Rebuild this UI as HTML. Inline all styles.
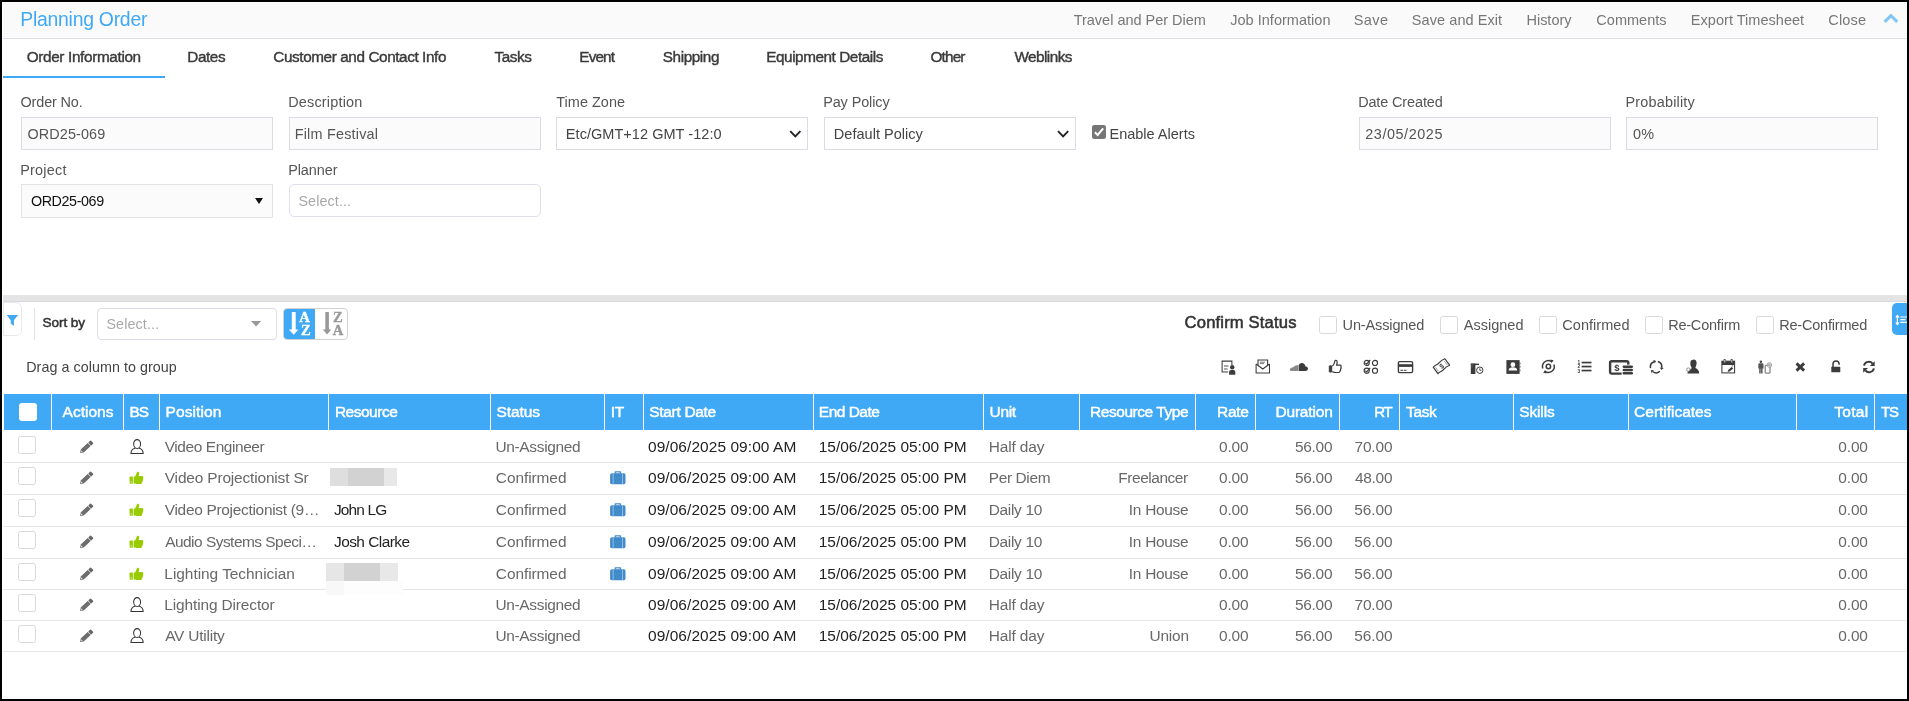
<!DOCTYPE html>
<html lang="en"><head><meta charset="utf-8"><title>Planning Order</title>
<style>
*{box-sizing:border-box;margin:0;padding:0}
html,body{width:1909px;height:701px;overflow:hidden;background:#000}
body{position:relative;font-family:'Liberation Sans',sans-serif}
#app{position:absolute;left:2px;top:2px;width:1905px;height:697px;background:#fff;overflow:hidden}
/* all children positioned in page coords: shift by -2 */
#pg{position:absolute;left:-2px;top:-2px;width:1909px;height:701px;will-change:transform}
.t{position:absolute;white-space:pre;line-height:20px;height:20px}
.b{position:absolute}
.inp{position:absolute;border:1px solid #d9dce5;background:#fbfbfb}
.sel{position:absolute;border:1px solid #d9dce5;background:#fff}
.cb{position:absolute;width:18px;height:18px;border:1px solid #d9d9d9;border-radius:2.5px;background:#fff}
.hs{position:absolute;top:394px;width:1px;height:36px;background:#fff}
.rl{position:absolute;left:3px;width:1904px;height:1px;background:#e6e6e6}
svg{position:absolute;overflow:visible}
</style></head>
<body><div id="app"><div id="pg">
<header id="titlebar">
<div class="b" style="left:3px;top:3px;width:1904px;height:34px;background:#fafafa"></div>
<div class="b" style="left:3px;top:38px;width:1904px;height:1px;background:#dadde4"></div>
<svg style="left:1882px;top:12px" width="18" height="14" viewBox="0 0 18 14"><path d="M2.6 9.9 L8.9 3.6 L15.2 9.9" fill="none" stroke="#7fc6f7" stroke-width="3" /></svg>
<span class="t" style="left:20.34px;top:9.28px;font-size:19.4px;color:#3fa9f5;letter-spacing:-0.261px;">Planning Order</span>
<span class="t" style="left:1073.70px;top:9.98px;font-size:14.5px;color:#777;letter-spacing:-0.011px;">Travel and Per Diem</span>
<span class="t" style="left:1230.28px;top:9.98px;font-size:14.5px;color:#777;letter-spacing:0.017px;">Job Information</span>
<span class="t" style="left:1353.83px;top:9.98px;font-size:14.5px;color:#777;letter-spacing:0.372px;">Save</span>
<span class="t" style="left:1411.83px;top:9.98px;font-size:14.5px;color:#777;letter-spacing:0.071px;">Save and Exit</span>
<span class="t" style="left:1526.46px;top:9.98px;font-size:14.5px;color:#777;letter-spacing:-0.008px;">History</span>
<span class="t" style="left:1596.33px;top:9.98px;font-size:14.5px;color:#777;letter-spacing:0.025px;">Comments</span>
<span class="t" style="left:1690.86px;top:9.98px;font-size:14.5px;color:#777;letter-spacing:0.029px;">Export Timesheet</span>
<span class="t" style="left:1828.33px;top:9.98px;font-size:14.5px;color:#777;letter-spacing:0.155px;">Close</span>
</header>
<nav id="tabs">
<div class="b" style="left:3px;top:76px;width:162px;height:2px;background:#3fa9f5"></div>
<span class="t" style="left:26.67px;top:47.30px;font-size:15.3px;color:#3a3a3a;letter-spacing:-0.338px;-webkit-text-stroke:0.4px #3a3a3a;">Order Information</span>
<span class="t" style="left:187.34px;top:47.30px;font-size:15.3px;color:#3a3a3a;letter-spacing:-0.421px;-webkit-text-stroke:0.4px #3a3a3a;">Dates</span>
<span class="t" style="left:273.34px;top:47.30px;font-size:15.3px;color:#3a3a3a;letter-spacing:-0.405px;-webkit-text-stroke:0.4px #3a3a3a;">Customer and Contact Info</span>
<span class="t" style="left:494.55px;top:47.30px;font-size:15.3px;color:#3a3a3a;letter-spacing:-0.425px;-webkit-text-stroke:0.4px #3a3a3a;">Tasks</span>
<span class="t" style="left:579.35px;top:47.30px;font-size:15.3px;color:#3a3a3a;letter-spacing:-0.885px;-webkit-text-stroke:0.4px #3a3a3a;">Event</span>
<span class="t" style="left:662.80px;top:47.30px;font-size:15.3px;color:#3a3a3a;letter-spacing:-0.421px;-webkit-text-stroke:0.4px #3a3a3a;">Shipping</span>
<span class="t" style="left:766.29px;top:47.30px;font-size:15.3px;color:#3a3a3a;letter-spacing:-0.444px;-webkit-text-stroke:0.4px #3a3a3a;">Equipment Details</span>
<span class="t" style="left:930.56px;top:47.30px;font-size:15.3px;color:#3a3a3a;letter-spacing:-0.835px;-webkit-text-stroke:0.4px #3a3a3a;">Other</span>
<span class="t" style="left:1014.50px;top:47.30px;font-size:15.3px;color:#3a3a3a;letter-spacing:-0.551px;-webkit-text-stroke:0.4px #3a3a3a;">Weblinks</span>
</nav>
<form id="order-info">
<div class="inp" style="left:21px;top:117px;width:252px;height:33px"></div>
<div class="inp" style="left:289px;top:117px;width:252px;height:33px"></div>
<div class="sel" style="left:556px;top:117px;width:252px;height:33px"></div>
<div class="sel" style="left:824px;top:117px;width:252px;height:33px"></div>
<div class="inp" style="left:1359px;top:117px;width:252px;height:33px"></div>
<div class="inp" style="left:1626px;top:117px;width:252px;height:33px"></div>
<div class="inp" style="left:21px;top:184px;width:252px;height:34px;border-color:#e3e3e3"></div>
<div class="sel" style="left:289px;top:184px;width:252px;height:33px;border-radius:5px;border-color:#dde0ea"></div>
<svg style="left:787px;top:128px" width="16" height="12" viewBox="0 0 16 12"><path d="M3.2 3.2 L8.3 8.3 L13.4 3.2" fill="none" stroke="#222" stroke-width="1.9" /></svg>
<svg style="left:1055px;top:128px" width="16" height="12" viewBox="0 0 16 12"><path d="M3 3.2 L8.1 8.3 L13.2 3.2" fill="none" stroke="#222" stroke-width="1.9" /></svg>
<svg style="left:254px;top:197px" width="10" height="8" viewBox="0 0 10 8"><path d="M1 1 H9 L5 7 Z" fill="#111"/></svg>
<svg style="left:1092px;top:125px" width="14" height="14" viewBox="0 0 14 14"><rect x="0" y="0" width="14" height="14" rx="2.2" fill="#767676"/><path d="M2.9 7.2 L5.7 10 L11.2 3.4" fill="none" stroke="#fff" stroke-width="2" /></svg>
<span class="t" style="left:20.52px;top:92.39px;font-size:14.45px;color:#555;letter-spacing:-0.142px;">Order No.</span>
<span class="t" style="left:288.15px;top:92.39px;font-size:14.45px;color:#555;letter-spacing:0.192px;">Description</span>
<span class="t" style="left:556.29px;top:92.39px;font-size:14.45px;color:#555;letter-spacing:0.032px;">Time Zone</span>
<span class="t" style="left:823.15px;top:92.39px;font-size:14.45px;color:#555;letter-spacing:-0.095px;">Pay Policy</span>
<span class="t" style="left:1358.15px;top:92.39px;font-size:14.45px;color:#555;letter-spacing:-0.117px;">Date Created</span>
<span class="t" style="left:1625.44px;top:92.39px;font-size:14.45px;color:#555;letter-spacing:0.191px;">Probability</span>
<span class="t" style="left:20.15px;top:159.99px;font-size:14.45px;color:#555;letter-spacing:0.227px;">Project</span>
<span class="t" style="left:288.15px;top:159.99px;font-size:14.45px;color:#555;letter-spacing:-0.057px;">Planner</span>
<span class="t" style="left:27.56px;top:123.71px;font-size:14.4px;color:#555;letter-spacing:0.104px;">ORD25-069</span>
<span class="t" style="left:294.68px;top:123.71px;font-size:14.4px;color:#555;letter-spacing:0.218px;">Film Festival</span>
<span class="t" style="left:565.86px;top:123.68px;font-size:14.5px;color:#444;letter-spacing:0.044px;">Etc/GMT+12 GMT -12:0</span>
<span class="t" style="left:833.86px;top:123.68px;font-size:14.5px;color:#444;letter-spacing:0.018px;">Default Policy</span>
<span class="t" style="left:1109.46px;top:123.68px;font-size:14.5px;color:#444;letter-spacing:0.005px;">Enable Alerts</span>
<span class="t" style="left:1365.29px;top:123.71px;font-size:14.4px;color:#555;letter-spacing:0.565px;">23/05/2025</span>
<span class="t" style="left:1633.05px;top:123.71px;font-size:14.4px;color:#555;letter-spacing:0.133px;">0%</span>
<span class="t" style="left:30.96px;top:191.25px;font-size:14.3px;color:#111;letter-spacing:-0.393px;">ORD25-069</span>
<span class="t" style="left:298.42px;top:191.05px;font-size:14.3px;color:#a8a8a8;letter-spacing:0.123px;">Select...</span>
</form>
<section id="toolbar">
<div class="b" style="left:3px;top:295px;width:1904px;height:6px;background:#e4e4e4"></div>
<div class="b" style="left:3px;top:301px;width:1904px;height:1px;background:#d8dbe1"></div>
<div class="b" style="left:3px;top:302px;width:19px;height:34px;border:1px solid #e9e9e9;border-radius:0 6px 6px 0;background:#fff"></div>
<div class="b" style="left:34px;top:308px;width:1px;height:32px;background:#e4e4e4"></div>
<div class="sel" style="left:97px;top:308px;width:180px;height:32px;border-radius:4px;border-color:#dcdce4"></div>
<div class="b" style="left:283px;top:308px;width:65px;height:32px;border:1px solid #d2d2d6;border-radius:4px;background:#fff"></div>
<div class="b" style="left:284px;top:309px;width:31px;height:30px;border-radius:3px 0 0 3px;background:#3fa9f5"></div>
<div class="cb" style="left:1319px;top:316px"></div>
<div class="cb" style="left:1440px;top:316px"></div>
<div class="cb" style="left:1539px;top:316px"></div>
<div class="cb" style="left:1645px;top:316px"></div>
<div class="cb" style="left:1756px;top:316px"></div>
<div class="b" style="left:1892px;top:303px;width:15px;height:32px;border-radius:5px 0 0 5px;background:#3fa9f5"></div>
<svg style="left:250px;top:320px" width="12" height="8" viewBox="0 0 12 8"><path d="M1 1.1 H11.2 L6.1 6.4 Z" fill="#999"/></svg>
<svg style="left:6px;top:314px" width="13" height="13" viewBox="0 0 13 13"><path d="M0.7 1 H12.1 L7.9 6.3 V12 L4.7 9.6 V6.3 Z" fill="#3fa9f5"/></svg>
<svg style="left:1894px;top:313px" width="14" height="14" viewBox="0 0 14 14"><path d="M3.4 2.2 V11.8" fill="none" stroke="#fff" stroke-width="1.3" /><path d="M1.2 4.6 L3.4 1.6 L5.6 4.6 Z M1.2 9.6 L3.4 12.6 L5.6 9.6 Z" fill="#fff"/><path d="M6.3 4 H13 M6.3 6.6 H11.5 M6.3 9.4 H13" fill="none" stroke="#fff" stroke-width="1.1" /></svg>
<svg style="left:287px;top:311px" width="14" height="25" viewBox="0 0 14 25"><path d="M4.8 1 H8.7 V18.5 H11.4 L6.7 23.7 L1.8 18.5 H4.8 Z" fill="#fff"/></svg>
<svg style="left:321px;top:311px" width="14" height="25" viewBox="0 0 14 25"><path d="M4.3 1 H7.9 V18.5 H10.3 L6.1 23.6 L1.8 18.5 H4.3 Z" fill="#999"/></svg>
<svg style="left:1221.1px;top:359.5px" width="15" height="16" viewBox="0 0 15 16"><path d="M10.9 5 V1.1 H1.1 V11.9 H7.2" fill="none" stroke="#3c3c3c" stroke-width="1.05" /><path d="M3 6 H7.6 M3 9 H6.6" fill="none" stroke="#555" stroke-width="1" /><circle cx="11.2" cy="7.3" r="2.2" fill="#3c3c3c"/><path d="M8.1 14.8 V11.9 A1.9 1.9 0 0 1 10 10 H12.4 A1.9 1.9 0 0 1 14.3 11.9 V14.8 Z" fill="#3c3c3c"/></svg>
<svg style="left:1255.4px;top:359.1px" width="16" height="15" viewBox="0 0 16 15"><path d="M1.1 5 V13.9 H14.5 V5" fill="none" stroke="#3c3c3c" stroke-width="1.05" /><path d="M1.1 5 L7.8 10 L14.5 5" fill="none" stroke="#3c3c3c" stroke-width="1.1" /><path d="M3 6.2 V1 H12.6 V6.2" fill="none" stroke="#3c3c3c" stroke-width="1.1" /><path d="M4.8 3.2 H10 M4.8 4.6 H9" fill="none" stroke="#777" stroke-width="1" /></svg>
<svg style="left:1289px;top:362px" width="20" height="10" viewBox="0 0 20 10"><path d="M1 7.2 C1.4 5.6 3.2 5.6 4.4 4.9 C5.8 4 7.2 3 9.6 3 V9 H2.2 C1.3 9 0.8 8.2 1 7.2 Z" fill="#6a6a6a" opacity=".8"/><path d="M9.9 9 V2.6 C10.8 1.5 12 0.9 13.3 1 C15.2 1.2 16.3 2.7 16.5 4.4 C18 4.2 19.1 5.4 19 6.8 C18.9 8 17.9 9 16.7 9 Z" fill="#3c3c3c"/></svg>
<svg style="left:1328px;top:359px" width="15" height="15" viewBox="0 0 15 15"><rect x="1.3" y="6.8" width="2.4" height="6.3" rx=".4" fill="#3c3c3c" stroke="#3c3c3c" stroke-width="1"/><path d="M4.3 7.2 C5.6 6.2 6.6 4.2 6.9 1.9 C7.1 1.1 8.7 1 9.1 2.3 C9.4 3.5 9 4.9 8.5 6.1 H12 C13.1 6.1 13.5 7.3 12.8 8 C13.4 8.6 13.2 9.6 12.5 10 C12.9 10.7 12.6 11.5 12 11.8 C12.2 12.7 11.6 13.5 10.7 13.5 H7.2 C6.1 13.5 5.3 12.9 4.3 12.7" fill="none" stroke="#3c3c3c" stroke-width="1.2" stroke-linejoin="round"/></svg>
<svg style="left:1363.3px;top:358.9px" width="16" height="15" viewBox="0 0 16 15"><circle cx="3.7" cy="3.9" r="2.55" fill="none" stroke="#3c3c3c" stroke-width="1.15" /><circle cx="12" cy="3.9" r="2.55" fill="none" stroke="#3c3c3c" stroke-width="1.15" /><circle cx="3.7" cy="11.7" r="2.55" fill="none" stroke="#3c3c3c" stroke-width="1.15" /><circle cx="12" cy="11.7" r="2.55" fill="none" stroke="#3c3c3c" stroke-width="1.15" /><path d="M2.3 3.8 L3.6 5.1 L7.2 1 M2.3 11.6 L3.6 12.9 L7.2 8.8" fill="none" stroke="#3c3c3c" stroke-width="1.15" /></svg>
<svg style="left:1397px;top:360px" width="17" height="14" viewBox="0 0 17 14"><rect x="1.4" y="1.6" width="14.2" height="11" rx="1.4" fill="none" stroke="#3c3c3c" stroke-width="1.4" /><rect x="1.4" y="4.2" width="14.2" height="2.7" fill="#3c3c3c"/><path d="M3.4 10.3 H6 M6.8 10.3 H9.4" fill="none" stroke="#3c3c3c" stroke-width="1.1" /></svg>
<svg style="left:1431.5px;top:357px" width="19" height="18.5" viewBox="0 0 19 18.5"><g transform="rotate(-36 9.4 9.2)"><path d="M2.2 5.2 C4.6 4.2 6.8 6 9.4 5.2 C12 4.4 14.2 4.4 16.6 5.2 V13.2 C14.2 12.4 12 12.4 9.4 13.2 C6.8 14 4.6 12.2 2.2 13.2 Z" fill="none" stroke="#3c3c3c" stroke-width="1.2" stroke-linejoin="round"/><path d="M4 6.6 V11.6 M14.8 6.8 V11.6" fill="none" stroke="#888" stroke-width="0.7" /></g><text x="9.6" y="11.6" font-family="Liberation Sans,sans-serif" font-size="7" font-weight="700" fill="#3c3c3c" text-anchor="middle" transform="rotate(-36 9.6 9.2)">$</text></svg>
<svg style="left:1470px;top:363px" width="15" height="12" viewBox="0 0 15 12"><rect x=".8" y=".6" width="4.6" height="10.4" fill="#3c3c3c"/><rect x=".8" y=".6" width="8.2" height="1.5" fill="#3c3c3c"/><path d="M2 1 V4.5" fill="none" stroke="#777" stroke-width="0.6" /><circle cx="9.8" cy="7.2" r="3.2" fill="#fff" stroke="#3c3c3c" stroke-width="1"/><path d="M9.8 5.3 V7.3 H11.4" fill="none" stroke="#3c3c3c" stroke-width="0.9" /></svg>
<svg style="left:1505.5px;top:360px" width="15" height="14" viewBox="0 0 15 14"><rect x=".4" y=".1" width="13.2" height="13.8" fill="#3c3c3c"/><path d="M13.6 2.6 H14.4 V4.4 H13.6 M13.6 6 H14.4 V7.8 H13.6 M13.6 9.4 H14.4 V11.2 H13.6" fill="#3c3c3c"/><circle cx="6.9" cy="4.7" r="2.4" fill="#fff"/><path d="M2.6 10.6 C2.6 8.2 4.6 7.2 6.9 7.2 C9.2 7.2 11.2 8.2 11.2 10.6 Z" fill="#fff"/></svg>
<svg style="left:1541px;top:359px" width="15" height="15" viewBox="0 0 15 15"><circle cx="7.4" cy="7.5" r="2.2" fill="none" stroke="#3c3c3c" stroke-width="1.5" /><path d="M1.9 9.6 A5.9 5.9 0 0 1 10.4 2.4" fill="none" stroke="#3c3c3c" stroke-width="1.5" /><path d="M12.9 5.4 A5.9 5.9 0 0 1 4.4 12.6" fill="none" stroke="#3c3c3c" stroke-width="1.5" /><path d="M9.2 0.6 L12.6 1.2 L10.6 4.2 Z M5.6 14.4 L2.2 13.8 L4.2 10.8 Z" fill="#3c3c3c"/></svg>
<svg style="left:1577px;top:359.1px" width="15" height="15" viewBox="0 0 15 15"><rect x="4.6" y="2.7" width="9.9" height="1.7" fill="#3c3c3c"/><rect x="4.6" y="6.7" width="9.9" height="1.7" fill="#3c3c3c"/><rect x="4.6" y="10.7" width="9.9" height="1.7" fill="#3c3c3c"/><text x="0.4" y="4.6" font-family="Liberation Sans,sans-serif" font-size="4.8" font-weight="700" fill="#3c3c3c">1</text><text x="0.4" y="9" font-family="Liberation Sans,sans-serif" font-size="4.8" font-weight="700" fill="#3c3c3c">2</text><text x="0.4" y="13.6" font-family="Liberation Sans,sans-serif" font-size="4.8" font-weight="700" fill="#3c3c3c">3</text></svg>
<svg style="left:1608px;top:359px" width="26" height="16.5" viewBox="0 0 26 16.5"><rect x="2.1" y="2.2" width="18.2" height="12.4" rx="1.6" fill="none" stroke="#3c3c3c" stroke-width="2.4" /><rect x="13.6" y="5.6" width="12.4" height="11" fill="#fff"/><rect x="14.6" y="6.5" width="10.4" height="2.5" rx="1.2" fill="#3c3c3c"/><rect x="14.6" y="9.7" width="10.4" height="2.5" rx="1.2" fill="#3c3c3c"/><rect x="14.6" y="12.9" width="10.4" height="2.5" rx="1.2" fill="#3c3c3c"/><text x="9" y="12" font-family="Liberation Sans,sans-serif" font-size="9.5" font-weight="700" fill="#3c3c3c" text-anchor="middle">$</text></svg>
<svg style="left:1648.8px;top:360px" width="15" height="14" viewBox="0 0 15 14"><path d="M8.86 1.58 A5.7 5.7 0 0 1 12.74 7.79" fill="none" stroke="#3c3c3c" stroke-width="1.5" /><path d="M12.44 9.97 L14.73 8.07 L10.76 7.51 Z" fill="#3c3c3c"/><path d="M10.91 11.24 A5.7 5.7 0 0 1 3.59 11.49" fill="none" stroke="#3c3c3c" stroke-width="1.5" /><path d="M1.86 10.14 L2.36 13.07 L4.82 9.92 Z" fill="#3c3c3c"/><path d="M1.52 8.19 A5.7 5.7 0 0 1 4.96 1.72" fill="none" stroke="#3c3c3c" stroke-width="1.5" /><path d="M7.00 0.89 L4.22 -0.14 L5.71 3.57 Z" fill="#3c3c3c"/></svg>
<svg style="left:1686px;top:359px" width="14" height="15" viewBox="0 0 14 15"><path d="M5 1.6 C6.4 0.2 8.2 0.8 8.6 0.4 C10.2 1 10.8 3 10.6 4.6 C10.5 6.4 9.8 7.6 9.4 8.6 C9.6 9.8 13.4 10.4 13.2 14.4 H1.6 C1.4 11.6 3.6 10.4 5.6 9.6 C5.8 9 5.4 8.2 5 7.6 C4.2 6.2 4 3 5 1.6 Z" fill="#3c3c3c"/><circle cx="2.4" cy="10.6" r="1.7" fill="#fff" stroke="#777" stroke-width=".8"/></svg>
<svg style="left:1721.3px;top:359.3px" width="15" height="15" viewBox="0 0 15 15"><rect x=".9" y="2.2" width="12.7" height="11.7" fill="none" stroke="#3c3c3c" stroke-width="1.05" /><rect x=".9" y="2.2" width="12.7" height="3.8" fill="#3c3c3c"/><rect x="3" y=".5" width="1.5" height="3.2" fill="#ccc" stroke="#3c3c3c" stroke-width=".5"/><rect x="10" y=".5" width="1.5" height="3.2" fill="#ccc" stroke="#3c3c3c" stroke-width=".5"/><path d="M6.6 12.8 L7.2 10.9 L10.6 7.9 L12.2 9.5 L8.6 12.5 Z" fill="#3c3c3c"/><path d="M10.6 7 L12.2 6.9" fill="none" stroke="#3c3c3c" stroke-width="0.8" /></svg>
<svg style="left:1757.5px;top:360px" width="13.5" height="14.5" viewBox="0 0 13.5 14.5"><circle cx="2.9" cy="1.7" r="1.3" fill="#444"/><path d="M.3 4.4 C.3 3.6 .9 3.2 1.6 3.2 H4.2 C4.9 3.2 5.5 3.6 5.5 4.4 V8.4 H4.6 V13.6 H3.1 V8.8 H2.7 V13.6 H1.2 V8.4 H.3 Z" fill="#555"/><rect x="7.2" y="5.3" width="4.8" height="7.8" rx=".3" fill="none" stroke="#555" stroke-width="0.9" /><circle cx="11.4" cy="5" r="2.3" fill="#f2f2f2" stroke="#9a9a9a" stroke-width=".9"/><circle cx="11.4" cy="5" r=".9" fill="none" stroke="#777" stroke-width="0.7" /></svg>
<svg style="left:1795px;top:362px" width="11" height="10.5" viewBox="0 0 11 10.5"><path d="M1.5 1.4 L9.1 8.6 M9.1 1.4 L1.5 8.6" fill="none" stroke="#3c3c3c" stroke-width="2.9" /></svg>
<svg style="left:1831px;top:359.5px" width="10.5" height="13" viewBox="0 0 10.5 13"><rect x=".3" y="6.8" width="9" height="5.5" rx=".6" fill="#3c3c3c"/><path d="M2 7 V4 A3.05 3.05 0 0 1 8.1 4 V4.8" fill="none" stroke="#3c3c3c" stroke-width="1.5" /></svg>
<svg style="left:1861.8px;top:360px" width="14" height="14" viewBox="0 0 14 14"><path d="M2 5.6 A4.9 4.9 0 0 1 10.6 3.6" fill="none" stroke="#3c3c3c" stroke-width="2" /><path d="M11.9 8.4 A4.9 4.9 0 0 1 3.3 10.4" fill="none" stroke="#3c3c3c" stroke-width="2" /><path d="M12.7 1.2 V6 H7.9 Z M1.2 12.8 V8 H6 Z" fill="#3c3c3c"/></svg>
<span class="t" style="left:42.62px;top:312.79px;font-size:13.6px;color:#333;letter-spacing:-0.109px;-webkit-text-stroke:0.5px #333;">Sort by</span>
<span class="t" style="left:106.45px;top:314.05px;font-size:14.3px;color:#a8a8a8;letter-spacing:0.132px;">Select...</span>
<span class="t" style="left:1184.62px;top:313.25px;font-size:16.6px;color:#333;letter-spacing:0.164px;-webkit-text-stroke:0.55px #333;">Confirm Status</span>
<span class="t" style="left:1342.56px;top:314.98px;font-size:14.5px;color:#555;letter-spacing:-0.127px;">Un-Assigned</span>
<span class="t" style="left:1463.80px;top:314.98px;font-size:14.5px;color:#555;letter-spacing:0.001px;">Assigned</span>
<span class="t" style="left:1562.24px;top:314.98px;font-size:14.5px;color:#555;letter-spacing:0.054px;">Confirmed</span>
<span class="t" style="left:1668.15px;top:314.98px;font-size:14.5px;color:#555;letter-spacing:-0.212px;">Re-Confirm</span>
<span class="t" style="left:1779.15px;top:314.98px;font-size:14.5px;color:#555;letter-spacing:-0.192px;">Re-Confirmed</span>
<span class="t" style="left:26.22px;top:357.05px;font-size:14.3px;color:#444;letter-spacing:0.056px;">Drag a column to group</span>
<span class="t" style="left:299.27px;top:306.87px;font-size:14.6px;color:#fff;font-family:'Liberation Serif', serif;font-weight:700;-webkit-text-stroke:0.4px #fff;">A</span>
<span class="t" style="left:301.02px;top:319.57px;font-size:14.6px;color:#fff;font-family:'Liberation Serif', serif;font-weight:700;-webkit-text-stroke:0.4px #fff;">Z</span>
<span class="t" style="left:333.06px;top:306.87px;font-size:14.6px;color:#999;font-family:'Liberation Serif', serif;font-weight:700;-webkit-text-stroke:0.4px #999;">Z</span>
<span class="t" style="left:332.81px;top:319.57px;font-size:14.6px;color:#999;font-family:'Liberation Serif', serif;font-weight:700;-webkit-text-stroke:0.4px #999;">A</span>
</section>
<section id="grid">
<div class="b" style="left:4px;top:394px;width:1903px;height:36px;background:#3fa9f5"></div>
<div class="hs" style="left:51px"></div>
<div class="hs" style="left:123px"></div>
<div class="hs" style="left:159px"></div>
<div class="hs" style="left:328px"></div>
<div class="hs" style="left:490px"></div>
<div class="hs" style="left:604px"></div>
<div class="hs" style="left:643px"></div>
<div class="hs" style="left:813px"></div>
<div class="hs" style="left:983px"></div>
<div class="hs" style="left:1079px"></div>
<div class="hs" style="left:1195px"></div>
<div class="hs" style="left:1255px"></div>
<div class="hs" style="left:1339px"></div>
<div class="hs" style="left:1399px"></div>
<div class="hs" style="left:1513px"></div>
<div class="hs" style="left:1628px"></div>
<div class="hs" style="left:1796px"></div>
<div class="hs" style="left:1874px"></div>
<div class="b" style="left:19px;top:403px;width:18px;height:18px;border-radius:3px;background:#fff"></div>
<div class="rl" style="top:462px"></div>
<div class="rl" style="top:494px"></div>
<div class="rl" style="top:526px"></div>
<div class="rl" style="top:558px"></div>
<div class="rl" style="top:589px"></div>
<div class="rl" style="top:620px"></div>
<div class="rl" style="top:651px"></div>
<div class="cb" style="left:18px;top:436px"></div>
<div class="cb" style="left:18px;top:467px"></div>
<div class="cb" style="left:18px;top:499px"></div>
<div class="cb" style="left:18px;top:531px"></div>
<div class="cb" style="left:18px;top:563px"></div>
<div class="cb" style="left:18px;top:594px"></div>
<div class="cb" style="left:18px;top:625px"></div>
<div class="b" style="left:330px;top:468px;width:18px;height:17.8px;background:#dedede"></div>
<div class="b" style="left:348px;top:468px;width:36px;height:17.8px;background:#d2d2d2"></div>
<div class="b" style="left:384px;top:468px;width:13.1px;height:17.8px;background:#e8e8e8"></div>
<div class="b" style="left:326px;top:563px;width:18px;height:17.7px;background:#e6e6e6"></div>
<div class="b" style="left:344px;top:563px;width:36px;height:17.7px;background:#d2d2d2"></div>
<div class="b" style="left:380px;top:563px;width:18px;height:17.7px;background:#e8e8e8"></div>
<div class="b" style="left:326px;top:580.7px;width:18px;height:14.2px;background:#f8f8f8"></div>
<div class="b" style="left:344px;top:580.7px;width:58.7px;height:14.2px;background:#fdfdfd"></div>
<svg style="left:79.8px;top:439.0px" width="16" height="16" viewBox="0 0 16 16"><g transform="translate(0.1,14) rotate(-43)"><path d="M0 0 L2.9 -2.15 V2.15 Z" fill="#666"/><path d="M1.2 0 L2.7 -1.05 V1.05 Z" fill="#e8e8e8"/><rect x="2.9" y="-2.15" width="9.5" height="4.3" fill="#666"/><path d="M3.2 -0.72 H12.2 M3.2 0.72 H12.2" stroke="#858585" stroke-width=".45"/><rect x="13" y="-2.15" width="3.45" height="4.3" rx=".7" fill="#666"/></g></svg>
<svg style="left:79.8px;top:470.0px" width="16" height="16" viewBox="0 0 16 16"><g transform="translate(0.1,14) rotate(-43)"><path d="M0 0 L2.9 -2.15 V2.15 Z" fill="#666"/><path d="M1.2 0 L2.7 -1.05 V1.05 Z" fill="#e8e8e8"/><rect x="2.9" y="-2.15" width="9.5" height="4.3" fill="#666"/><path d="M3.2 -0.72 H12.2 M3.2 0.72 H12.2" stroke="#858585" stroke-width=".45"/><rect x="13" y="-2.15" width="3.45" height="4.3" rx=".7" fill="#666"/></g></svg>
<svg style="left:79.8px;top:502.0px" width="16" height="16" viewBox="0 0 16 16"><g transform="translate(0.1,14) rotate(-43)"><path d="M0 0 L2.9 -2.15 V2.15 Z" fill="#666"/><path d="M1.2 0 L2.7 -1.05 V1.05 Z" fill="#e8e8e8"/><rect x="2.9" y="-2.15" width="9.5" height="4.3" fill="#666"/><path d="M3.2 -0.72 H12.2 M3.2 0.72 H12.2" stroke="#858585" stroke-width=".45"/><rect x="13" y="-2.15" width="3.45" height="4.3" rx=".7" fill="#666"/></g></svg>
<svg style="left:79.8px;top:534.0px" width="16" height="16" viewBox="0 0 16 16"><g transform="translate(0.1,14) rotate(-43)"><path d="M0 0 L2.9 -2.15 V2.15 Z" fill="#666"/><path d="M1.2 0 L2.7 -1.05 V1.05 Z" fill="#e8e8e8"/><rect x="2.9" y="-2.15" width="9.5" height="4.3" fill="#666"/><path d="M3.2 -0.72 H12.2 M3.2 0.72 H12.2" stroke="#858585" stroke-width=".45"/><rect x="13" y="-2.15" width="3.45" height="4.3" rx=".7" fill="#666"/></g></svg>
<svg style="left:79.8px;top:566.0px" width="16" height="16" viewBox="0 0 16 16"><g transform="translate(0.1,14) rotate(-43)"><path d="M0 0 L2.9 -2.15 V2.15 Z" fill="#666"/><path d="M1.2 0 L2.7 -1.05 V1.05 Z" fill="#e8e8e8"/><rect x="2.9" y="-2.15" width="9.5" height="4.3" fill="#666"/><path d="M3.2 -0.72 H12.2 M3.2 0.72 H12.2" stroke="#858585" stroke-width=".45"/><rect x="13" y="-2.15" width="3.45" height="4.3" rx=".7" fill="#666"/></g></svg>
<svg style="left:79.8px;top:597.3px" width="16" height="16" viewBox="0 0 16 16"><g transform="translate(0.1,14) rotate(-43)"><path d="M0 0 L2.9 -2.15 V2.15 Z" fill="#666"/><path d="M1.2 0 L2.7 -1.05 V1.05 Z" fill="#e8e8e8"/><rect x="2.9" y="-2.15" width="9.5" height="4.3" fill="#666"/><path d="M3.2 -0.72 H12.2 M3.2 0.72 H12.2" stroke="#858585" stroke-width=".45"/><rect x="13" y="-2.15" width="3.45" height="4.3" rx=".7" fill="#666"/></g></svg>
<svg style="left:79.8px;top:628.4px" width="16" height="16" viewBox="0 0 16 16"><g transform="translate(0.1,14) rotate(-43)"><path d="M0 0 L2.9 -2.15 V2.15 Z" fill="#666"/><path d="M1.2 0 L2.7 -1.05 V1.05 Z" fill="#e8e8e8"/><rect x="2.9" y="-2.15" width="9.5" height="4.3" fill="#666"/><path d="M3.2 -0.72 H12.2 M3.2 0.72 H12.2" stroke="#858585" stroke-width=".45"/><rect x="13" y="-2.15" width="3.45" height="4.3" rx=".7" fill="#666"/></g></svg>
<svg style="left:129.5px;top:438.7px" width="14.5" height="16" viewBox="0 0 14.5 16"><ellipse cx="7.1" cy="5" rx="3.45" ry="4.4" fill="none" stroke="#333" stroke-width="1.05" /><path d="M.9 14.5 C1.1 11.4 3 9.8 5 9.3 M9.2 9.3 C11.2 9.8 13 11.4 13.2 14.5 M.9 14.5 H13.2" fill="none" stroke="#333" stroke-width="1.05" stroke-linecap="round"/></svg>
<svg style="left:129.5px;top:596.9px" width="14.5" height="16" viewBox="0 0 14.5 16"><ellipse cx="7.1" cy="5" rx="3.45" ry="4.4" fill="none" stroke="#333" stroke-width="1.05" /><path d="M.9 14.5 C1.1 11.4 3 9.8 5 9.3 M9.2 9.3 C11.2 9.8 13 11.4 13.2 14.5 M.9 14.5 H13.2" fill="none" stroke="#333" stroke-width="1.05" stroke-linecap="round"/></svg>
<svg style="left:129.5px;top:628.2px" width="14.5" height="16" viewBox="0 0 14.5 16"><ellipse cx="7.1" cy="5" rx="3.45" ry="4.4" fill="none" stroke="#333" stroke-width="1.05" /><path d="M.9 14.5 C1.1 11.4 3 9.8 5 9.3 M9.2 9.3 C11.2 9.8 13 11.4 13.2 14.5 M.9 14.5 H13.2" fill="none" stroke="#333" stroke-width="1.05" stroke-linecap="round"/></svg>
<svg style="left:128.6px;top:470.9px" width="15" height="14" viewBox="0 0 15 14"><rect x=".6" y="5.6" width="3.3" height="7.2" rx=".7" fill="#99cc00"/><circle cx="2.2" cy="11" r=".55" fill="#fff"/><path d="M4.6 6.2 C6 5.4 7.4 3.6 7.8 1.4 C8 .3 9.9 .4 10.2 1.8 C10.4 3 10 4 9.6 5 H13 C14.3 5 14.7 6.4 14 7.2 C14.5 7.9 14.3 8.8 13.6 9.2 C14 9.9 13.7 10.7 13.1 11 C13.3 12 12.7 12.9 11.7 12.9 H8 C6.6 12.9 5.6 12.4 4.6 12.2 Z" fill="#99cc00"/></svg>
<svg style="left:610px;top:470.9px" width="16" height="14" viewBox="0 0 16 14"><path d="M4.6 2.6 V.9 A.7 .7 0 0 1 5.3 .2 H10.4 A.7 .7 0 0 1 11.1 .9 V2.6" fill="#428bca"/><rect x="5.9" y="1.2" width="3.9" height="1.4" fill="#c5dcf0"/><rect x=".1" y="2.3" width="15.4" height="10.9" rx="1.7" fill="#428bca"/><rect x="2.75" y="2.3" width=".75" height="10.9" fill="#a8cbe8"/><rect x="12.2" y="2.3" width=".75" height="10.9" fill="#a8cbe8"/></svg>
<svg style="left:128.6px;top:502.9px" width="15" height="14" viewBox="0 0 15 14"><rect x=".6" y="5.6" width="3.3" height="7.2" rx=".7" fill="#99cc00"/><circle cx="2.2" cy="11" r=".55" fill="#fff"/><path d="M4.6 6.2 C6 5.4 7.4 3.6 7.8 1.4 C8 .3 9.9 .4 10.2 1.8 C10.4 3 10 4 9.6 5 H13 C14.3 5 14.7 6.4 14 7.2 C14.5 7.9 14.3 8.8 13.6 9.2 C14 9.9 13.7 10.7 13.1 11 C13.3 12 12.7 12.9 11.7 12.9 H8 C6.6 12.9 5.6 12.4 4.6 12.2 Z" fill="#99cc00"/></svg>
<svg style="left:610px;top:502.9px" width="16" height="14" viewBox="0 0 16 14"><path d="M4.6 2.6 V.9 A.7 .7 0 0 1 5.3 .2 H10.4 A.7 .7 0 0 1 11.1 .9 V2.6" fill="#428bca"/><rect x="5.9" y="1.2" width="3.9" height="1.4" fill="#c5dcf0"/><rect x=".1" y="2.3" width="15.4" height="10.9" rx="1.7" fill="#428bca"/><rect x="2.75" y="2.3" width=".75" height="10.9" fill="#a8cbe8"/><rect x="12.2" y="2.3" width=".75" height="10.9" fill="#a8cbe8"/></svg>
<svg style="left:128.6px;top:534.9px" width="15" height="14" viewBox="0 0 15 14"><rect x=".6" y="5.6" width="3.3" height="7.2" rx=".7" fill="#99cc00"/><circle cx="2.2" cy="11" r=".55" fill="#fff"/><path d="M4.6 6.2 C6 5.4 7.4 3.6 7.8 1.4 C8 .3 9.9 .4 10.2 1.8 C10.4 3 10 4 9.6 5 H13 C14.3 5 14.7 6.4 14 7.2 C14.5 7.9 14.3 8.8 13.6 9.2 C14 9.9 13.7 10.7 13.1 11 C13.3 12 12.7 12.9 11.7 12.9 H8 C6.6 12.9 5.6 12.4 4.6 12.2 Z" fill="#99cc00"/></svg>
<svg style="left:610px;top:534.9px" width="16" height="14" viewBox="0 0 16 14"><path d="M4.6 2.6 V.9 A.7 .7 0 0 1 5.3 .2 H10.4 A.7 .7 0 0 1 11.1 .9 V2.6" fill="#428bca"/><rect x="5.9" y="1.2" width="3.9" height="1.4" fill="#c5dcf0"/><rect x=".1" y="2.3" width="15.4" height="10.9" rx="1.7" fill="#428bca"/><rect x="2.75" y="2.3" width=".75" height="10.9" fill="#a8cbe8"/><rect x="12.2" y="2.3" width=".75" height="10.9" fill="#a8cbe8"/></svg>
<svg style="left:128.6px;top:566.9px" width="15" height="14" viewBox="0 0 15 14"><rect x=".6" y="5.6" width="3.3" height="7.2" rx=".7" fill="#99cc00"/><circle cx="2.2" cy="11" r=".55" fill="#fff"/><path d="M4.6 6.2 C6 5.4 7.4 3.6 7.8 1.4 C8 .3 9.9 .4 10.2 1.8 C10.4 3 10 4 9.6 5 H13 C14.3 5 14.7 6.4 14 7.2 C14.5 7.9 14.3 8.8 13.6 9.2 C14 9.9 13.7 10.7 13.1 11 C13.3 12 12.7 12.9 11.7 12.9 H8 C6.6 12.9 5.6 12.4 4.6 12.2 Z" fill="#99cc00"/></svg>
<svg style="left:610px;top:566.9px" width="16" height="14" viewBox="0 0 16 14"><path d="M4.6 2.6 V.9 A.7 .7 0 0 1 5.3 .2 H10.4 A.7 .7 0 0 1 11.1 .9 V2.6" fill="#428bca"/><rect x="5.9" y="1.2" width="3.9" height="1.4" fill="#c5dcf0"/><rect x=".1" y="2.3" width="15.4" height="10.9" rx="1.7" fill="#428bca"/><rect x="2.75" y="2.3" width=".75" height="10.9" fill="#a8cbe8"/><rect x="12.2" y="2.3" width=".75" height="10.9" fill="#a8cbe8"/></svg>
<span class="t" style="left:62.54px;top:401.63px;font-size:15.5px;color:#fff;letter-spacing:0.011px;-webkit-text-stroke:0.45px #fff;">Actions</span>
<span class="t" style="left:129.41px;top:401.68px;font-size:15.36px;color:#fff;letter-spacing:-0.971px;-webkit-text-stroke:0.45px #fff;">BS</span>
<span class="t" style="left:165.43px;top:401.63px;font-size:15.5px;color:#fff;letter-spacing:0.131px;-webkit-text-stroke:0.45px #fff;">Position</span>
<span class="t" style="left:334.91px;top:401.63px;font-size:15.5px;color:#fff;letter-spacing:-0.499px;-webkit-text-stroke:0.45px #fff;">Resource</span>
<span class="t" style="left:496.41px;top:401.63px;font-size:15.5px;color:#fff;letter-spacing:-0.048px;-webkit-text-stroke:0.45px #fff;">Status</span>
<span class="t" style="left:610.66px;top:401.63px;font-size:15.5px;color:#fff;letter-spacing:-0.257px;-webkit-text-stroke:0.45px #fff;">IT</span>
<span class="t" style="left:649.20px;top:401.63px;font-size:15.5px;color:#fff;letter-spacing:-0.307px;-webkit-text-stroke:0.45px #fff;">Start Date</span>
<span class="t" style="left:818.82px;top:401.63px;font-size:15.5px;color:#fff;letter-spacing:-0.516px;-webkit-text-stroke:0.45px #fff;">End Date</span>
<span class="t" style="left:989.61px;top:401.63px;font-size:15.5px;color:#fff;letter-spacing:-0.363px;-webkit-text-stroke:0.45px #fff;">Unit</span>
<span class="t" style="left:1090.04px;top:401.63px;font-size:15.5px;color:#fff;letter-spacing:-0.448px;-webkit-text-stroke:0.45px #fff;">Resource Type</span>
<span class="t" style="left:1217.04px;top:401.63px;font-size:15.5px;color:#fff;letter-spacing:-0.316px;-webkit-text-stroke:0.45px #fff;">Rate</span>
<span class="t" style="left:1275.43px;top:401.63px;font-size:15.5px;color:#fff;letter-spacing:-0.180px;-webkit-text-stroke:0.45px #fff;">Duration</span>
<span class="t" style="left:1374.28px;top:401.79px;font-size:15.05px;color:#fff;letter-spacing:-1.252px;-webkit-text-stroke:0.45px #fff;">RT</span>
<span class="t" style="left:1405.99px;top:401.63px;font-size:15.5px;color:#fff;letter-spacing:-0.354px;-webkit-text-stroke:0.45px #fff;">Task</span>
<span class="t" style="left:1519.20px;top:401.63px;font-size:15.5px;color:#fff;letter-spacing:-0.118px;-webkit-text-stroke:0.45px #fff;">Skills</span>
<span class="t" style="left:1634.11px;top:401.63px;font-size:15.5px;color:#fff;letter-spacing:-0.018px;-webkit-text-stroke:0.45px #fff;">Certificates</span>
<span class="t" style="left:1834.26px;top:401.63px;font-size:15.5px;color:#fff;letter-spacing:0.282px;-webkit-text-stroke:0.45px #fff;">Total</span>
<span class="t" style="left:1881.11px;top:401.81px;font-size:14.97px;color:#fff;letter-spacing:-1.301px;-webkit-text-stroke:0.45px #fff;">TS</span>
<span class="t" style="left:164.76px;top:436.65px;font-size:15.45px;color:#686868;letter-spacing:-0.414px;">Video Engineer</span>
<span class="t" style="left:495.44px;top:436.65px;font-size:15.45px;color:#686868;letter-spacing:-0.319px;">Un-Assigned</span>
<span class="t" style="left:648.00px;top:436.65px;font-size:15.45px;color:#222;letter-spacing:0.082px;">09/06/2025 09:00 AM</span>
<span class="t" style="left:818.73px;top:436.65px;font-size:15.45px;color:#222;letter-spacing:0.012px;">15/06/2025 05:00 PM</span>
<span class="t" style="left:988.73px;top:436.65px;font-size:15.45px;color:#686868;letter-spacing:-0.137px;">Half day</span>
<span class="t" style="left:1219.09px;top:436.65px;font-size:15.45px;color:#686868;letter-spacing:-0.166px;">0.00</span>
<span class="t" style="left:1294.93px;top:436.65px;font-size:15.45px;color:#686868;letter-spacing:-0.272px;">56.00</span>
<span class="t" style="left:1354.47px;top:436.65px;font-size:15.45px;color:#686868;letter-spacing:-0.156px;">70.00</span>
<span class="t" style="left:1838.36px;top:436.65px;font-size:15.45px;color:#686868;letter-spacing:-0.164px;">0.00</span>
<span class="t" style="left:164.76px;top:467.55px;font-size:15.45px;color:#686868;letter-spacing:-0.161px;">Video Projectionist Sr</span>
<span class="t" style="left:495.80px;top:467.55px;font-size:15.45px;color:#686868;letter-spacing:-0.067px;">Confirmed</span>
<span class="t" style="left:648.00px;top:467.55px;font-size:15.45px;color:#222;letter-spacing:0.082px;">09/06/2025 09:00 AM</span>
<span class="t" style="left:818.73px;top:467.55px;font-size:15.45px;color:#222;letter-spacing:0.012px;">15/06/2025 05:00 PM</span>
<span class="t" style="left:988.73px;top:467.55px;font-size:15.45px;color:#686868;letter-spacing:-0.362px;">Per Diem</span>
<span class="t" style="left:1118.33px;top:467.55px;font-size:15.45px;color:#686868;letter-spacing:-0.441px;">Freelancer</span>
<span class="t" style="left:1219.09px;top:467.55px;font-size:15.45px;color:#686868;letter-spacing:-0.166px;">0.00</span>
<span class="t" style="left:1294.93px;top:467.55px;font-size:15.45px;color:#686868;letter-spacing:-0.272px;">56.00</span>
<span class="t" style="left:1354.95px;top:467.55px;font-size:15.45px;color:#686868;letter-spacing:-0.275px;">48.00</span>
<span class="t" style="left:1838.36px;top:467.55px;font-size:15.45px;color:#686868;letter-spacing:-0.164px;">0.00</span>
<span class="t" style="left:164.76px;top:499.65px;font-size:15.45px;color:#686868;letter-spacing:-0.294px;">Video Projectionist (9…</span>
<span class="t" style="left:334.01px;top:499.65px;font-size:15.45px;color:#222;letter-spacing:-0.861px;">John LG</span>
<span class="t" style="left:495.80px;top:499.65px;font-size:15.45px;color:#686868;letter-spacing:-0.067px;">Confirmed</span>
<span class="t" style="left:648.00px;top:499.65px;font-size:15.45px;color:#222;letter-spacing:0.082px;">09/06/2025 09:00 AM</span>
<span class="t" style="left:818.73px;top:499.65px;font-size:15.45px;color:#222;letter-spacing:0.012px;">15/06/2025 05:00 PM</span>
<span class="t" style="left:988.73px;top:499.65px;font-size:15.45px;color:#686868;letter-spacing:-0.309px;">Daily 10</span>
<span class="t" style="left:1128.86px;top:499.65px;font-size:15.45px;color:#686868;letter-spacing:-0.296px;">In House</span>
<span class="t" style="left:1219.09px;top:499.65px;font-size:15.45px;color:#686868;letter-spacing:-0.166px;">0.00</span>
<span class="t" style="left:1294.93px;top:499.65px;font-size:15.45px;color:#686868;letter-spacing:-0.272px;">56.00</span>
<span class="t" style="left:1354.37px;top:499.65px;font-size:15.45px;color:#686868;letter-spacing:-0.130px;">56.00</span>
<span class="t" style="left:1838.36px;top:499.65px;font-size:15.45px;color:#686868;letter-spacing:-0.164px;">0.00</span>
<span class="t" style="left:165.18px;top:531.65px;font-size:15.45px;color:#686868;letter-spacing:-0.507px;">Audio Systems Speci…</span>
<span class="t" style="left:334.01px;top:531.65px;font-size:15.45px;color:#222;letter-spacing:-0.550px;">Josh Clarke</span>
<span class="t" style="left:495.80px;top:531.65px;font-size:15.45px;color:#686868;letter-spacing:-0.067px;">Confirmed</span>
<span class="t" style="left:648.00px;top:531.65px;font-size:15.45px;color:#222;letter-spacing:0.082px;">09/06/2025 09:00 AM</span>
<span class="t" style="left:818.73px;top:531.65px;font-size:15.45px;color:#222;letter-spacing:0.012px;">15/06/2025 05:00 PM</span>
<span class="t" style="left:988.73px;top:531.65px;font-size:15.45px;color:#686868;letter-spacing:-0.309px;">Daily 10</span>
<span class="t" style="left:1128.86px;top:531.65px;font-size:15.45px;color:#686868;letter-spacing:-0.296px;">In House</span>
<span class="t" style="left:1219.09px;top:531.65px;font-size:15.45px;color:#686868;letter-spacing:-0.166px;">0.00</span>
<span class="t" style="left:1294.93px;top:531.65px;font-size:15.45px;color:#686868;letter-spacing:-0.272px;">56.00</span>
<span class="t" style="left:1354.37px;top:531.65px;font-size:15.45px;color:#686868;letter-spacing:-0.130px;">56.00</span>
<span class="t" style="left:1838.36px;top:531.65px;font-size:15.45px;color:#686868;letter-spacing:-0.164px;">0.00</span>
<span class="t" style="left:164.33px;top:563.65px;font-size:15.45px;color:#686868;letter-spacing:-0.032px;">Lighting Technician</span>
<span class="t" style="left:495.80px;top:563.65px;font-size:15.45px;color:#686868;letter-spacing:-0.067px;">Confirmed</span>
<span class="t" style="left:648.00px;top:563.65px;font-size:15.45px;color:#222;letter-spacing:0.082px;">09/06/2025 09:00 AM</span>
<span class="t" style="left:818.73px;top:563.65px;font-size:15.45px;color:#222;letter-spacing:0.012px;">15/06/2025 05:00 PM</span>
<span class="t" style="left:988.73px;top:563.65px;font-size:15.45px;color:#686868;letter-spacing:-0.309px;">Daily 10</span>
<span class="t" style="left:1128.86px;top:563.65px;font-size:15.45px;color:#686868;letter-spacing:-0.296px;">In House</span>
<span class="t" style="left:1219.09px;top:563.65px;font-size:15.45px;color:#686868;letter-spacing:-0.166px;">0.00</span>
<span class="t" style="left:1294.93px;top:563.65px;font-size:15.45px;color:#686868;letter-spacing:-0.272px;">56.00</span>
<span class="t" style="left:1354.37px;top:563.65px;font-size:15.45px;color:#686868;letter-spacing:-0.130px;">56.00</span>
<span class="t" style="left:1838.36px;top:563.65px;font-size:15.45px;color:#686868;letter-spacing:-0.164px;">0.00</span>
<span class="t" style="left:164.33px;top:594.65px;font-size:15.45px;color:#686868;letter-spacing:-0.129px;">Lighting Director</span>
<span class="t" style="left:495.44px;top:594.65px;font-size:15.45px;color:#686868;letter-spacing:-0.319px;">Un-Assigned</span>
<span class="t" style="left:648.00px;top:594.65px;font-size:15.45px;color:#222;letter-spacing:0.082px;">09/06/2025 09:00 AM</span>
<span class="t" style="left:818.73px;top:594.65px;font-size:15.45px;color:#222;letter-spacing:0.012px;">15/06/2025 05:00 PM</span>
<span class="t" style="left:988.73px;top:594.65px;font-size:15.45px;color:#686868;letter-spacing:-0.137px;">Half day</span>
<span class="t" style="left:1219.09px;top:594.65px;font-size:15.45px;color:#686868;letter-spacing:-0.166px;">0.00</span>
<span class="t" style="left:1294.93px;top:594.65px;font-size:15.45px;color:#686868;letter-spacing:-0.272px;">56.00</span>
<span class="t" style="left:1354.47px;top:594.65px;font-size:15.45px;color:#686868;letter-spacing:-0.156px;">70.00</span>
<span class="t" style="left:1838.36px;top:594.65px;font-size:15.45px;color:#686868;letter-spacing:-0.164px;">0.00</span>
<span class="t" style="left:165.18px;top:625.55px;font-size:15.45px;color:#686868;letter-spacing:-0.213px;">AV Utility</span>
<span class="t" style="left:495.44px;top:625.55px;font-size:15.45px;color:#686868;letter-spacing:-0.319px;">Un-Assigned</span>
<span class="t" style="left:648.00px;top:625.55px;font-size:15.45px;color:#222;letter-spacing:0.082px;">09/06/2025 09:00 AM</span>
<span class="t" style="left:818.73px;top:625.55px;font-size:15.45px;color:#222;letter-spacing:0.012px;">15/06/2025 05:00 PM</span>
<span class="t" style="left:988.73px;top:625.55px;font-size:15.45px;color:#686868;letter-spacing:-0.137px;">Half day</span>
<span class="t" style="left:1149.41px;top:625.55px;font-size:15.45px;color:#686868;letter-spacing:-0.174px;">Union</span>
<span class="t" style="left:1219.09px;top:625.55px;font-size:15.45px;color:#686868;letter-spacing:-0.166px;">0.00</span>
<span class="t" style="left:1294.93px;top:625.55px;font-size:15.45px;color:#686868;letter-spacing:-0.272px;">56.00</span>
<span class="t" style="left:1354.37px;top:625.55px;font-size:15.45px;color:#686868;letter-spacing:-0.130px;">56.00</span>
<span class="t" style="left:1838.36px;top:625.55px;font-size:15.45px;color:#686868;letter-spacing:-0.164px;">0.00</span>
</section>
</div></div></body></html>
